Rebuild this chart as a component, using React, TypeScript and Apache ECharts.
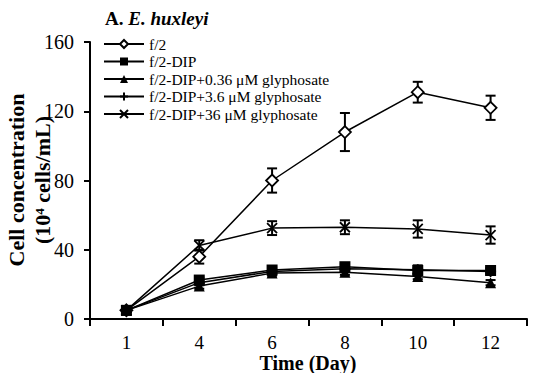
import React, { useEffect, useRef } from "react";
import * as echarts from "echarts";

const days = ["1", "4", "6", "8", "10", "12"];
const yTicks = [0, 40, 80, 120, 160];
const seriesNames = [
  "f/2",
  "f/2-DIP",
  "f/2-DIP+0.36 μM glyphosate",
  "f/2-DIP+3.6 μM glyphosate",
  "f/2-DIP+36 μM glyphosate",
];
const f2 = [5, 36, 80, 108, 131, 122];
const f2Err = [1, 4, 7, 11, 6, 7];
const dip = [5, 22.5, 28.3, 30.2, 28, 28];
const dipErr = [1, 1.5, 1.5, 1.5, 1.5, 1.5];
const g036 = [5, 19, 26.5, 27, 24.5, 21];
const g036Err = [1, 1.5, 1.5, 1.5, 1.5, 1.5];
const g36 = [5, 21, 27.5, 29, 28.5, 27.5];
const g36Err = [1, 1.5, 1.5, 1.5, 2.5, 1.5];
const g360 = [5, 42.5, 52.5, 53, 52, 48.5];
const g360Err = [1, 3, 4, 4, 5, 5];

const xTitle = "Time (Day)";
const yTitle1 = "Cell concentration";
const yTitle2 = "(10⁴ cells/mL)";

const FONT = "Liberation Serif, serif";
const plusPath = "path://M-5,0 L5,0 M0,-5 L0,5";
const crossPath = "path://M-5,-5 L5,5 M-5,5 L5,-5";

export default function App() {
  const ref = useRef<HTMLDivElement>(null);
  useEffect(() => {
    document.body.style.margin = "0";
    const chart = echarts.init(ref.current!, null, { renderer: "svg" });
    const sets = [
      { name: seriesNames[0], data: f2, err: f2Err, symbol: "diamond", size: 12, fill: "#fff" },
      { name: seriesNames[1], data: dip, err: dipErr, symbol: "rect", size: 11, fill: "#000" },
      { name: seriesNames[2], data: g036, err: g036Err, symbol: "triangle", size: 11, fill: "#000" },
      { name: seriesNames[3], data: g36, err: g36Err, symbol: plusPath, size: 11, fill: "#fff" },
      { name: seriesNames[4], data: g360, err: g360Err, symbol: crossPath, size: 10, fill: "#fff" },
    ];
    const lineSeries = sets.map((s) => ({
      name: s.name,
      type: "line",
      data: s.data,
      symbol: s.symbol,
      symbolSize: s.size,
      showAllSymbol: true,
      lineStyle: { color: "#000", width: 1.5 },
      itemStyle: { color: s.fill, borderColor: "#000", borderWidth: s.fill === "#000" ? 0 : 1.8 },
      z: 3,
    }));
    const errSeries = sets.map((s) => ({
      type: "custom",
      name: s.name + "_err",
      data: s.data.map((v, i) => [i, v - s.err[i], v + s.err[i]]),
      z: 2,
      renderItem: (params: any, api: any) => {
        const x = api.value(0);
        const lo = api.coord([x, api.value(1)]);
        const hi = api.coord([x, api.value(2)]);
        const w = 5;
        const st = { stroke: "#000", lineWidth: 2 };
        return {
          type: "group",
          children: [
            { type: "line", shape: { x1: lo[0], y1: lo[1], x2: hi[0], y2: hi[1] }, style: st },
            { type: "line", shape: { x1: lo[0] - w, y1: lo[1], x2: lo[0] + w, y2: lo[1] }, style: st },
            { type: "line", shape: { x1: hi[0] - w, y1: hi[1], x2: hi[0] + w, y2: hi[1] }, style: st },
          ],
        };
      },
    }));
    const nameStyle = { fontFamily: FONT, fontWeight: "bold", fill: "#000", textAlign: "center", textVerticalAlign: "middle" };
    chart.setOption({
      animation: false,
      backgroundColor: "#fff",
      textStyle: { fontFamily: FONT },
      title: {
        text: "{a|A. }{b|E. huxleyi}",
        left: 100,
        top: 4,
        textStyle: {
          rich: {
            a: { fontFamily: FONT, fontSize: 19, fontWeight: "bold", color: "#000" },
            b: { fontFamily: FONT, fontSize: 19, fontWeight: "bold", fontStyle: "italic", color: "#000" },
          },
        },
      },
      legend: {
        orient: "vertical",
        left: 98,
        top: 31,
        itemWidth: 40,
        itemHeight: 10,
        itemGap: 1.5,
        data: seriesNames,
        textStyle: { fontFamily: FONT, fontSize: 15.5, color: "#000" },
      },
      graphic: [
        { type: "text", x: 16, y: 180, rotation: Math.PI / 2, style: { ...nameStyle, text: yTitle1, fontSize: 22 } },
        { type: "text", x: 42, y: 180, rotation: Math.PI / 2, style: { ...nameStyle, text: yTitle2, fontSize: 22 } },
        { type: "text", x: 308, y: 363, style: { ...nameStyle, text: xTitle, fontSize: 20 } },
      ],
      grid: { left: 90, right: 6, top: 42, bottom: 54, outerBoundsMode: "none", containLabel: false },
      xAxis: {
        type: "category",
        data: days,
        boundaryGap: true,
        axisLine: { lineStyle: { color: "#000", width: 2 } },
        axisTick: { show: true, length: 7, lineStyle: { color: "#000", width: 2 }, interval: 0 },
        axisLabel: { fontFamily: FONT, fontSize: 19, color: "#000", margin: 14 },
      },
      yAxis: {
        type: "value",
        min: yTicks[0],
        max: yTicks[yTicks.length - 1],
        interval: 40,
        axisLine: { show: true, lineStyle: { color: "#000", width: 2 } },
        axisTick: { show: true, length: 6, lineStyle: { color: "#000", width: 2 } },
        splitLine: { show: false },
        axisLabel: { fontFamily: FONT, fontSize: 20, color: "#000", margin: 16 },
      },
      series: [...errSeries, ...lineSeries],
    });
    return () => chart.dispose();
  }, []);
  return <div ref={ref} style={{ width: 533, height: 373 }} />;
}
